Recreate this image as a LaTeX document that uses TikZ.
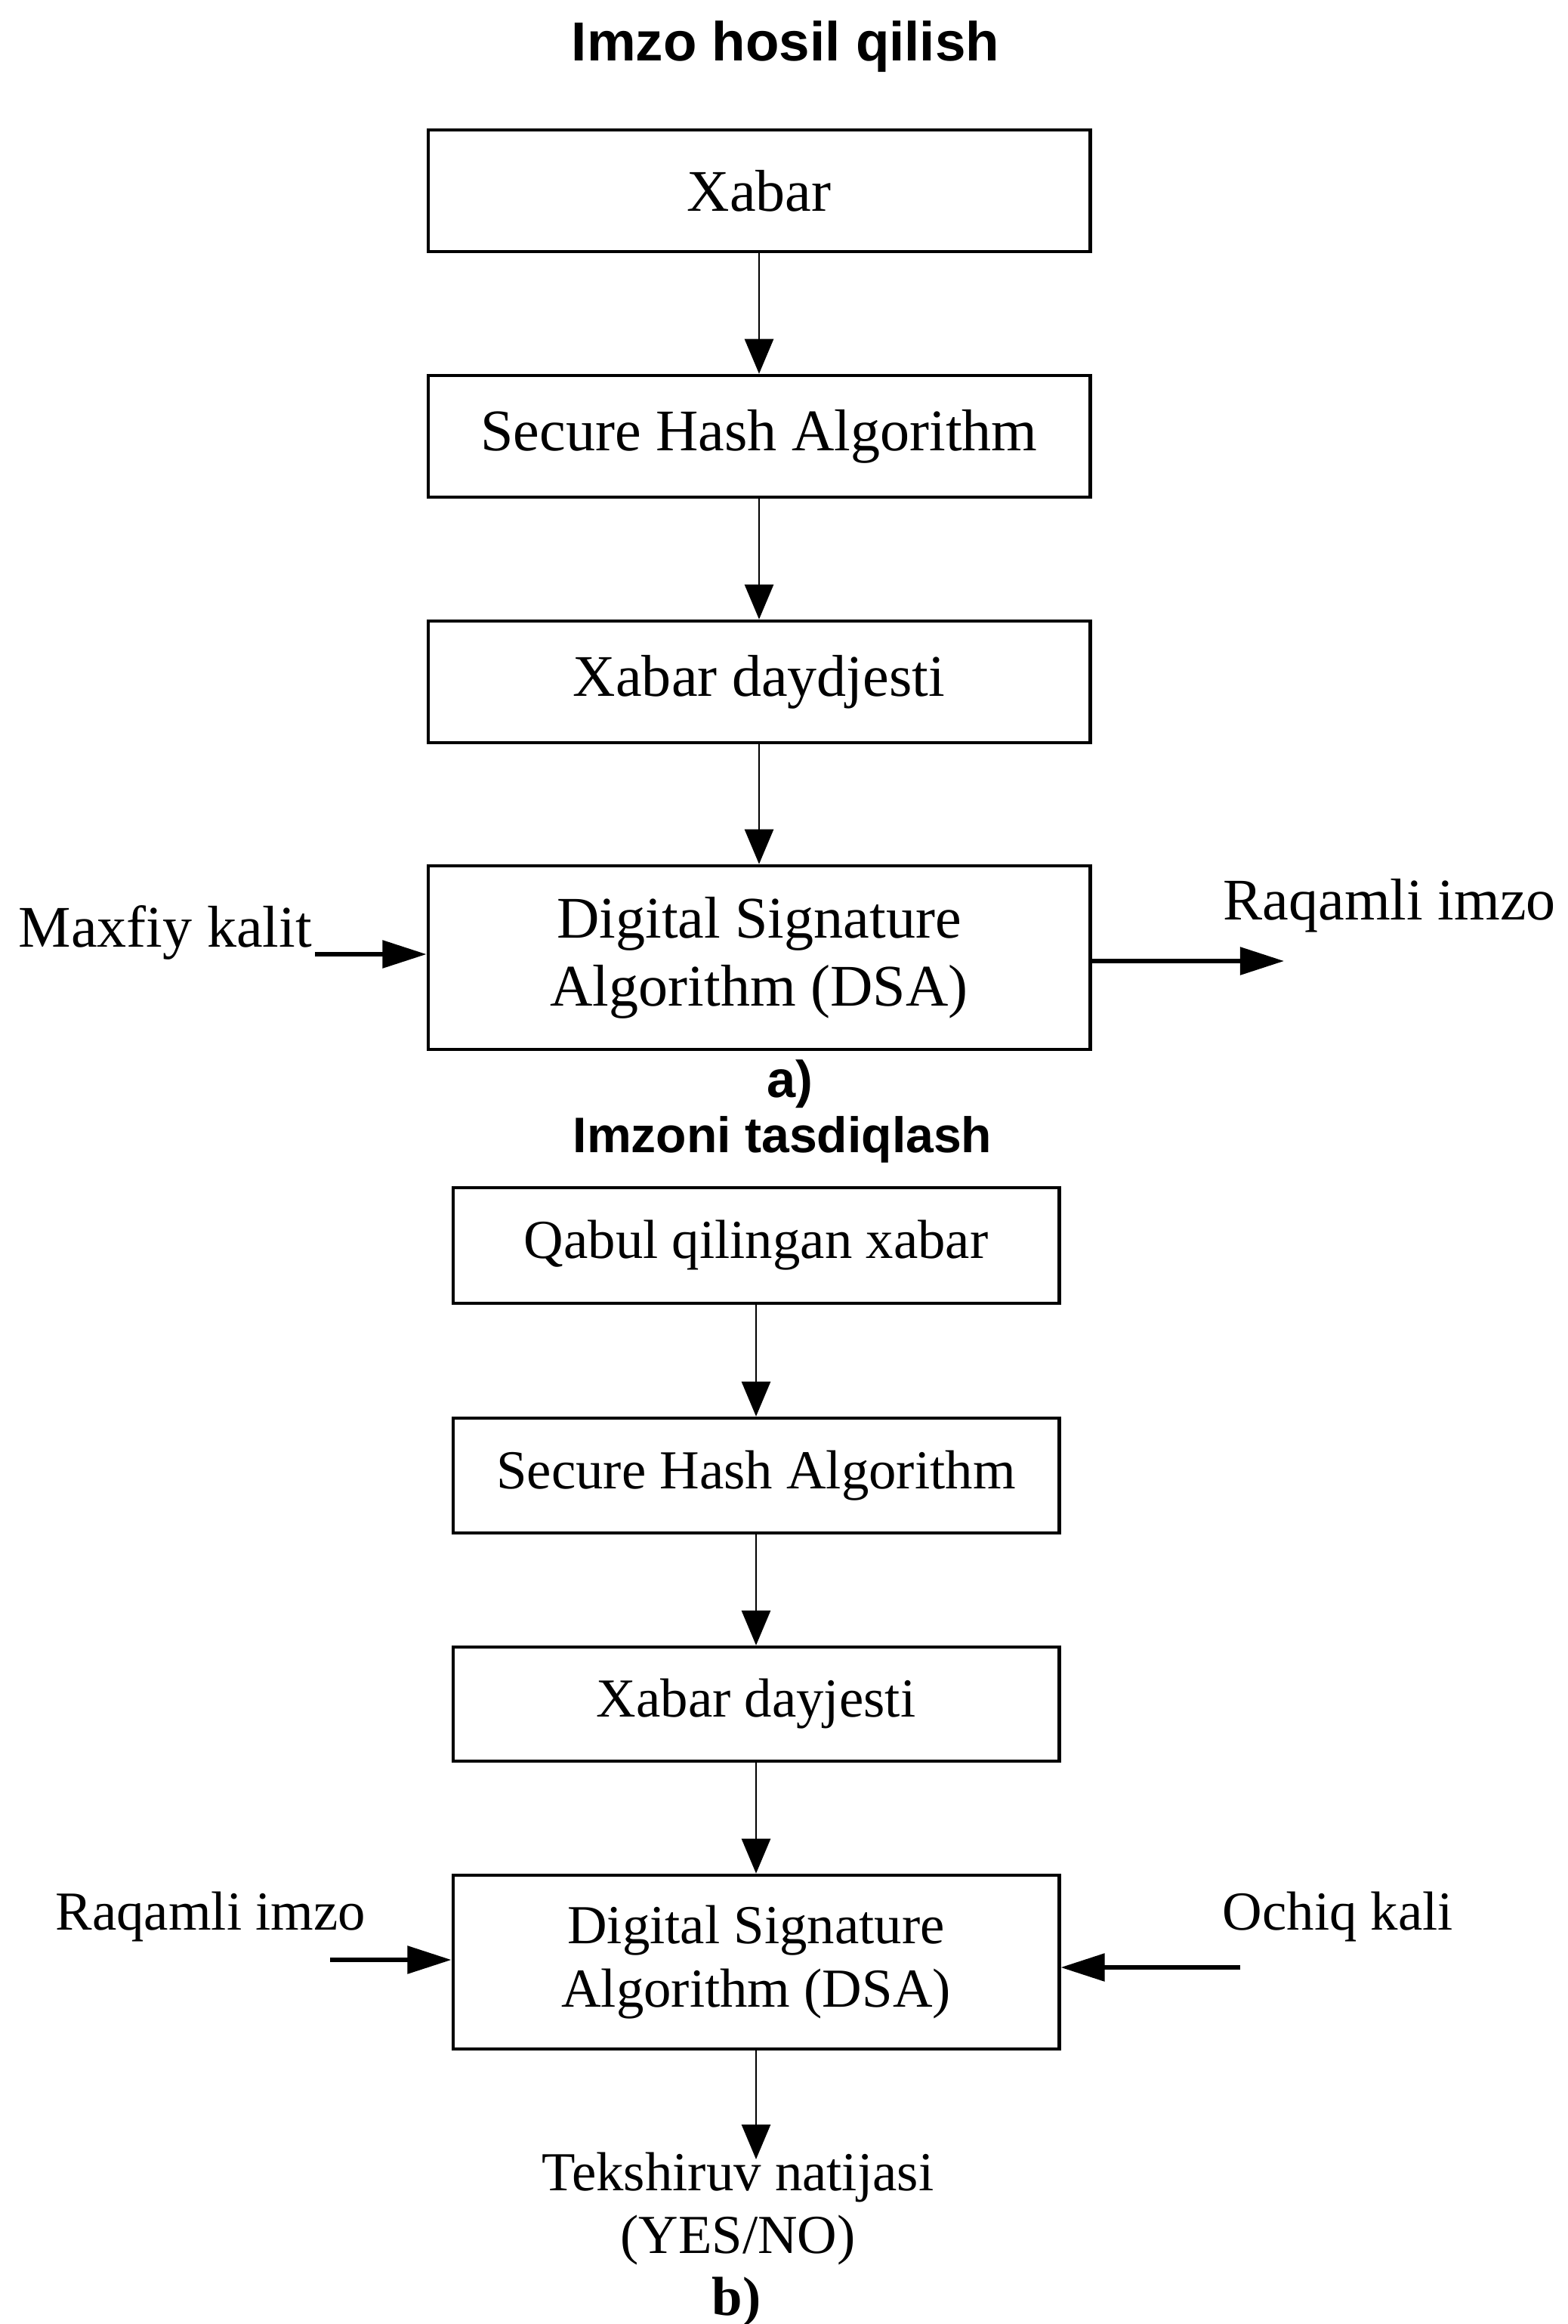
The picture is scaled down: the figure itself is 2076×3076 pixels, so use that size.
\documentclass[tikz,border=0pt]{standalone}
\usepackage{fontspec}
\setmainfont{Liberation Serif}
\newfontfamily\sansfam{Liberation Sans}
\usetikzlibrary{arrows.meta}
\tikzset{
  blk/.style={draw, line width=0.045cm, inner sep=0pt, align=center},
  blkA/.style={blk, minimum width=8.76cm, font=\fontsize{22.2pt}{25.6pt}\selectfont},
  blkB/.style={blk, minimum width=8.02cm, font=\fontsize{20.7pt}{24pt}\selectfont},
  lblA/.style={inner sep=0pt, font=\fontsize{22.2pt}{25.6pt}\selectfont},
  lblB/.style={inner sep=0pt, font=\fontsize{20.7pt}{24pt}\selectfont},
  ttl/.style={inner sep=0pt, anchor=base},
  varr/.style={line width=0.028cm, -{Triangle[length=0.46cm, width=0.38cm]}},
  harr/.style={line width=0.055cm, -{Triangle[length=0.58cm, width=0.36cm]}}
}
\begin{document}
\begin{tikzpicture}[x=0.01cm, y=-0.01cm]
\fill[white] (0,0) rectangle (2076,3076);
\path[use as bounding box] (0,0) rectangle (2076,3076);

% ---- part a ----
\node[ttl, font=\sansfam\bfseries\fontsize{20.7pt}{24pt}\selectfont] (t1) at (1040,81) {Imzo hosil qilish};

\node[blkA, minimum height=1.61cm] (b1) at (1005,252.5) {Xabar};
\node[blkA, minimum height=1.61cm] (b2) at (1005,577.5) {Secure Hash Algorithm};
\node[blkA, minimum height=1.61cm] (b3) at (1005,902.5) {Xabar daydjesti};
\node[blkA, minimum height=2.43cm] (b4) at (1005,1267.5) {Digital Signature\\Algorithm (DSA)};

\draw[varr] (b1) -- (b2);
\draw[varr] (b2) -- (b3);
\draw[varr] (b3) -- (b4);

\node[lblA, anchor=base west] (mk) at (24,1253) {Maxfiy kalit};
\coordinate (mkc) at (417,1263);
\draw[harr] (mkc) -- (mkc -| b4.west);

\node[lblA, anchor=base west] (ri) at (1619,1217) {Raqamli imzo};
\coordinate (ric) at (1700,1272);
\draw[harr] (b4.east |- ric) -- (ric);

\node[ttl, font=\sansfam\bfseries\fontsize{19.5pt}{23pt}\selectfont] (la) at (1046,1452) {a)};

% ---- part b ----
\node[ttl, font=\sansfam\bfseries\fontsize{18.8pt}{22pt}\selectfont] (t2) at (1036,1525) {Imzoni tasdiqlash};

\node[blkB, minimum height=1.53cm] (b5) at (1001,1648.5) {Qabul qilingan xabar};
\node[blkB, minimum height=1.52cm] (b6) at (1001,1953) {Secure Hash Algorithm};
\node[blkB, minimum height=1.51cm] (b7) at (1001,2255.5) {Xabar dayjesti};
\node[blkB, minimum height=2.30cm] (b8) at (1001,2597) {Digital Signature\\Algorithm (DSA)};

\draw[varr] (b5) -- (b6);
\draw[varr] (b6) -- (b7);
\draw[varr] (b7) -- (b8);

\node[lblB, anchor=base west] (ri2) at (73,2554) {Raqamli imzo};
\coordinate (ri2c) at (437,2594);
\draw[harr] (ri2c) -- (ri2c -| b8.west);

\node[lblB, anchor=base west] (ok) at (1618,2554) {Ochiq kali};
\coordinate (okc) at (1642,2604);
\draw[harr] (okc) -- (okc -| b8.east);

\coordinate (tnc) at (1001,2858);
\draw[varr] (b8.south) -- (tnc);

\node[lblB, anchor=base] (tn) at (977,2899) {Tekshiruv natijasi};
\node[lblB, anchor=base] (yn) at (977,2982) {(YES/NO)};
\node[ttl, font=\bfseries\fontsize{20.7pt}{24pt}\selectfont] (lb) at (975,3064) {b)};
\end{tikzpicture}
\end{document}
